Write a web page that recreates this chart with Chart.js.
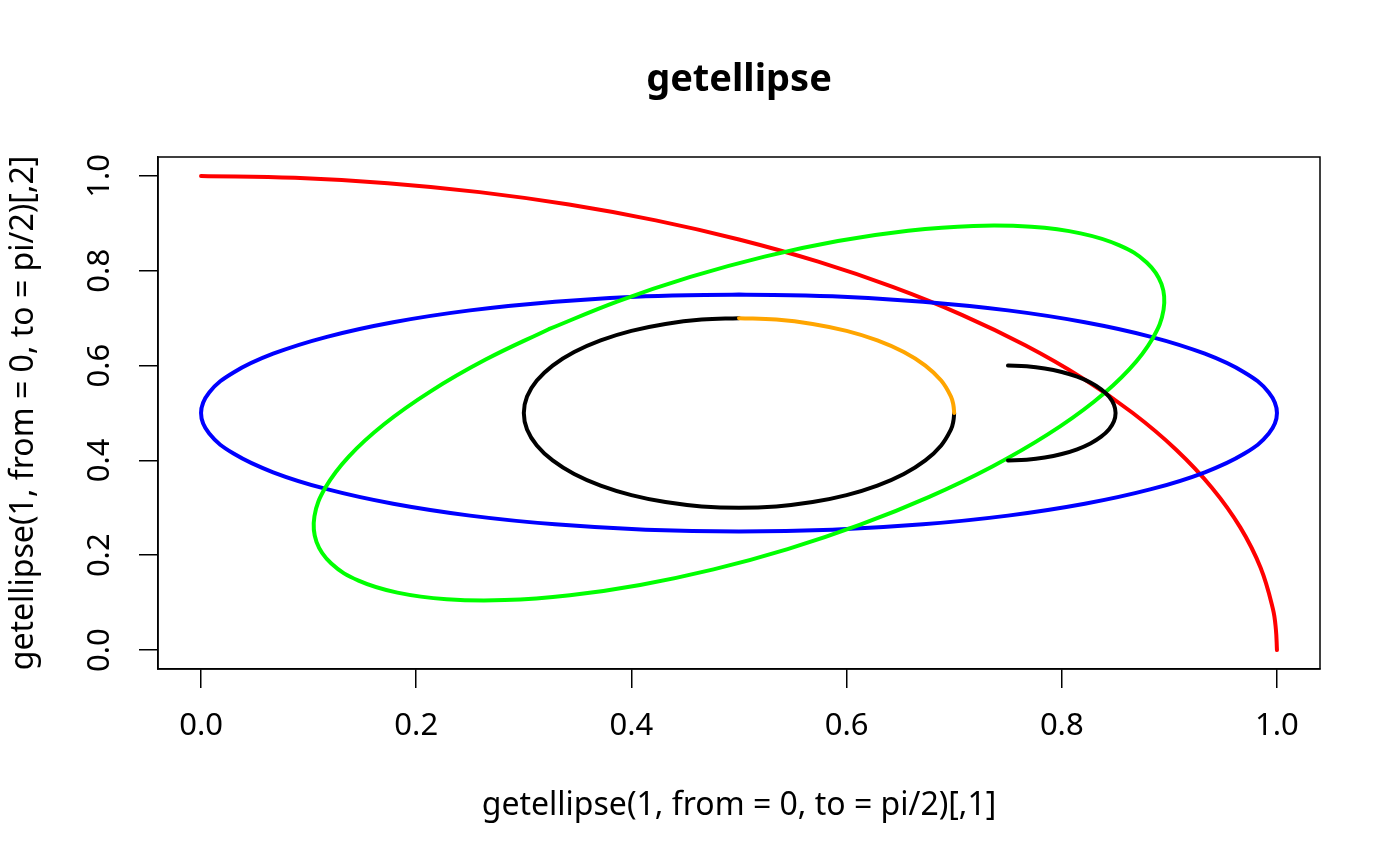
<!DOCTYPE html>
<html lang="en">
<head>
  <meta charset="UTF-8" />
  <title>getellipse</title>
  <script src="https://cdn.jsdelivr.net/npm/chart.js"></script>
  <style>
    html, body {
      margin: 0;
      background: #fff;
      overflow: hidden;
    }
    .wrap {
      width: 1400px;
      height: 866px;
    }
  </style>
</head>
<body>
  <div class="wrap">
    <canvas id="plot" width="1400" height="866"></canvas>
  </div>

  <script>
    // curves (x and y in data units)
    const redX = [1, 0.999, 0.9962, 0.9848, 0.9659, 0.9397, 0.9063, 0.866, 0.8192, 0.766, 0.7071, 0.6428, 0.5736, 0.5, 0.4226, 0.342, 0.2588, 0.1736, 0.0872, 0];
    const redY = [0, 0.0436, 0.0872, 0.1736, 0.2588, 0.342, 0.4226, 0.5, 0.5736, 0.6428, 0.7071, 0.766, 0.8192, 0.866, 0.9063, 0.9397, 0.9659, 0.9848, 0.9962, 1];

    const blueX = [0.5, 0.4132, 0.329, 0.25, 0.1786, 0.117, 0.067, 0.0302, 0.0076, 0, 0.0076, 0.0302, 0.067, 0.117, 0.1786, 0.25, 0.329, 0.4132, 0.5,
                   0.5868, 0.671, 0.75, 0.8214, 0.883, 0.933, 0.9698, 0.9924, 1, 0.9924, 0.9698, 0.933, 0.883, 0.8214, 0.75, 0.671, 0.5868, 0.5];
    const blueY = [0.75, 0.7462, 0.7349, 0.7165, 0.6915, 0.6607, 0.625, 0.5855, 0.5434, 0.5, 0.4566, 0.4145, 0.375, 0.3393, 0.3085, 0.2835, 0.2651, 0.2538, 0.25,
                   0.2538, 0.2651, 0.2835, 0.3085, 0.3393, 0.375, 0.4145, 0.4566, 0.5, 0.5434, 0.5855, 0.625, 0.6607, 0.6915, 0.7165, 0.7349, 0.7462, 0.75];

    const greenX = [0.3232, 0.2645, 0.213, 0.1701, 0.1373, 0.1156, 0.1054, 0.1073, 0.1211, 0.1464, 0.1825, 0.2283, 0.2822, 0.3428, 0.4081, 0.4763, 0.5452, 0.6127,
                    0.6768, 0.7355, 0.787, 0.8299, 0.8627, 0.8844, 0.8946, 0.8927, 0.8789, 0.8536, 0.8175, 0.7717, 0.7178, 0.6572, 0.5919, 0.5237, 0.4548, 0.3873, 0.3232];
    const greenY = [0.6768, 0.6127, 0.5452, 0.4763, 0.4081, 0.3428, 0.2822, 0.2283, 0.1825, 0.1464, 0.1211, 0.1073, 0.1054, 0.1156, 0.1373, 0.1701, 0.213, 0.2645,
                    0.3232, 0.3873, 0.4548, 0.5237, 0.5919, 0.6572, 0.7178, 0.7717, 0.8175, 0.8536, 0.8789, 0.8927, 0.8946, 0.8844, 0.8627, 0.8299, 0.787, 0.7355, 0.6768];

    const innerX = [0.5, 0.4653, 0.4316, 0.4, 0.3714, 0.3468, 0.3268, 0.3121, 0.303, 0.3, 0.303, 0.3121, 0.3268, 0.3468, 0.3714, 0.4, 0.4316, 0.4653,
                    0.5, 0.5347, 0.5684, 0.6, 0.6286, 0.6532, 0.6732, 0.6879, 0.697, 0.6992, 0.7];
    const innerY = [0.7, 0.697, 0.6879, 0.6732, 0.6532, 0.6286, 0.6, 0.5684, 0.5347, 0.5, 0.4653, 0.4316, 0.4, 0.3714, 0.3468, 0.3268, 0.3121, 0.303,
                    0.3, 0.303, 0.3121, 0.3268, 0.3468, 0.3714, 0.4, 0.4316, 0.4653, 0.4826, 0.5];

    const orangeX = [0.7, 0.6992, 0.697, 0.6879, 0.6732, 0.6532, 0.6286, 0.6, 0.5684, 0.5347, 0.5];
    const orangeY = [0.5, 0.5174, 0.5347, 0.5684, 0.6, 0.6286, 0.6532, 0.6732, 0.6879, 0.697, 0.7];

    const arcX = [0.75, 0.7674, 0.7842, 0.8, 0.8143, 0.8266, 0.8366, 0.844, 0.8485, 0.85, 0.8485, 0.844, 0.8366, 0.8266, 0.8143, 0.8, 0.7842, 0.7674, 0.75];
    const arcY = [0.6, 0.5985, 0.594, 0.5866, 0.5766, 0.5643, 0.55, 0.5342, 0.5174, 0.5, 0.4826, 0.4658, 0.45, 0.4357, 0.4234, 0.4134, 0.406, 0.4015, 0.4];

    const xTicks = [0, 0.2, 0.4, 0.6, 0.8, 1];
    const yTicks = [0, 0.2, 0.4, 0.6, 0.8, 1];

    const font = "'Noto Sans', 'Open Sans', sans-serif";

    function pts(xs, ys) {
      return xs.map((x, i) => ({ x: x, y: ys[i] }));
    }

    // R draws in call order, chart.js draws higher "order" first
    function curve(xs, ys, colour, order) {
      return {
        data: pts(xs, ys),
        borderColor: colour,
        borderWidth: 4,
        borderCapStyle: 'round',
        borderJoinStyle: 'round',
        pointRadius: 0,
        showLine: true,
        tension: 0.4,
        fill: false,
        order: order
      };
    }

    // box round the plot region + main title
    const boxAndTitle = {
      id: 'boxAndTitle',
      afterDraw(chart) {
        const { ctx, chartArea: a } = chart;
        ctx.save();
        ctx.strokeStyle = '#000';
        ctx.lineWidth = 1.5;
        ctx.strokeRect(a.left, a.top, a.right - a.left, a.bottom - a.top);
        ctx.fillStyle = '#000';
        ctx.font = "bold 38px " + font;
        ctx.textAlign = 'center';
        ctx.textBaseline = 'middle';
        ctx.fillText('getellipse', (a.left + a.right) / 2, 80);
        ctx.restore();
      }
    };

    const axisCommon = {
      type: 'linear',
      min: -0.04,
      max: 1.04,
      border: { display: true, color: '#000', width: 1.5 },
      grid: {
        drawOnChartArea: false,
        drawTicks: true,
        tickLength: 19,
        color: '#000',
        lineWidth: 1.5
      }
    };

    new Chart(document.getElementById('plot'), {
      type: 'scatter',
      data: {
        datasets: [
          curve(redX, redY, '#ff0000', 6),
          curve(blueX, blueY, '#0000ff', 5),
          curve(greenX, greenY, '#00ff00', 4),
          curve(innerX, innerY, '#000000', 3),
          curve(orangeX, orangeY, '#ffa500', 2),
          curve(arcX, arcY, '#000000', 1)
        ]
      },
      options: {
        responsive: false,
        animation: false,
        devicePixelRatio: 1,
        layout: { padding: { left: 0, top: 157, right: 80, bottom: 0 } },
        plugins: {
          legend: { display: false },
          tooltip: { enabled: false }
        },
        scales: {
          x: Object.assign({}, axisCommon, {
            position: 'bottom',
            afterBuildTicks: s => { s.ticks = xTicks.map(v => ({ value: v })); },
            afterFit: s => { s.height = 197; },
            ticks: {
              color: '#000',
              font: { family: font, size: 31 },
              padding: 20,
              maxRotation: 0,
              callback: v => v.toFixed(1)
            },
            title: {
              display: true,
              text: 'getellipse(1, from = 0, to = pi/2)[,1]',
              color: '#000',
              font: { family: font, size: 32 },
              padding: { top: 0, bottom: 41 }
            }
          }),
          y: Object.assign({}, axisCommon, {
            position: 'left',
            afterBuildTicks: s => { s.ticks = yTicks.map(v => ({ value: v })); },
            afterFit: s => { s.width = 158; },
            ticks: {
              color: '#000',
              font: { family: font, size: 31 },
              padding: 17,
              minRotation: 90,
              maxRotation: 90,
              crossAlign: 'center',
              callback: v => v.toFixed(1)
            },
            title: {
              display: true,
              text: 'getellipse(1, from = 0, to = pi/2)[,2]',
              color: '#000',
              font: { family: font, size: 32 },
              padding: { top: 5, bottom: 0 }
            }
          })
        }
      },
      plugins: [boxAndTitle]
    });
  </script>
</body>
</html>
